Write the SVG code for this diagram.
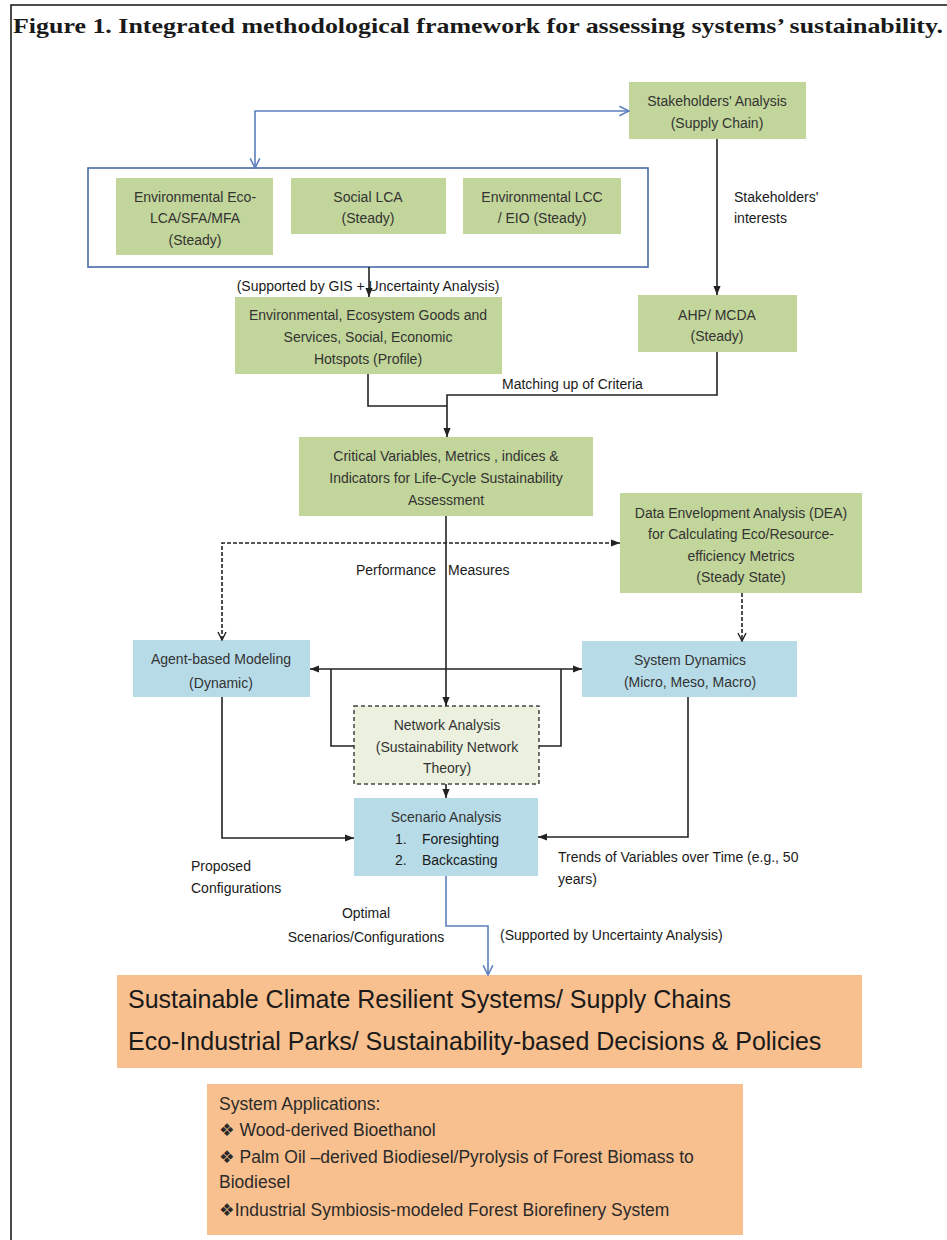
<svg xmlns="http://www.w3.org/2000/svg" width="947" height="1240" viewBox="0 0 947 1240">
  <defs>
    <style>
      .frame { fill: none; stroke: #111; stroke-width: 1.5; }
      .title { font-family: "Liberation Serif", "DejaVu Serif", serif; font-size: 22px; font-weight: bold; fill: #1a1a1a; }
      .green { fill: #c2d59a; }
      .blue { fill: #b7dce8; }
      .pale { fill: #ebf1de; stroke: #444; stroke-width: 1.5; stroke-dasharray: 4 3; }
      .orange { fill: #f9c08f; }
      .group { fill: none; stroke: #4a6aa8; stroke-width: 1.6; }
      .t { font-family: "Liberation Sans", Arial, sans-serif; font-size: 14px; fill: #333; text-anchor: middle; }
      .lbl { font-family: "Liberation Sans", Arial, sans-serif; font-size: 14px; fill: #1a1a1a; }
      .mid { text-anchor: middle; }
      .big { font-family: "Liberation Sans", Arial, sans-serif; font-size: 25px; fill: #1a1a1a; }
      .app { font-family: "Liberation Sans", "DejaVu Sans", Arial, sans-serif; font-size: 17.5px; fill: #2a2a2a; }
      .ln { fill: none; stroke: #222; stroke-width: 1.6; }
      .dash { fill: none; stroke: #222; stroke-width: 1.6; stroke-dasharray: 4 2; }
      .bl { fill: none; stroke: #5b7fbf; stroke-width: 1.6; }
    </style>
    <marker id="ah" viewBox="0 0 10 10" refX="10" refY="5" markerWidth="9" markerHeight="9" markerUnits="userSpaceOnUse" orient="auto-start-reverse">
      <path d="M0,1 L10,5 L0,9 z" fill="#222"/>
    </marker>
    <marker id="ao" viewBox="0 0 10 10" refX="9" refY="5" markerWidth="10" markerHeight="10" markerUnits="userSpaceOnUse" orient="auto-start-reverse">
      <path d="M1,1 L9,5 L1,9" fill="none" stroke="#222" stroke-width="1.4"/>
    </marker>
    <marker id="abl" viewBox="0 0 10 10" refX="9" refY="5" markerWidth="12" markerHeight="12" markerUnits="userSpaceOnUse" orient="auto-start-reverse">
      <path d="M1,1 L9,5 L1,9" fill="none" stroke="#5b7fbf" stroke-width="1.3"/>
    </marker>
  </defs>

  <rect width="947" height="1240" fill="#fff"/>
  <path class="frame" d="M947 5 H11 V1240"/>
  <text class="title" x="13" y="33" textLength="930" lengthAdjust="spacingAndGlyphs">Figure 1. Integrated methodological framework for assessing systems’ sustainability.</text>

  <!-- grouping frame around the three steady-state assessments -->
  <rect id="assessment-group" class="group" x="88" y="168" width="560" height="99"/>

  <g id="stakeholders">
    <rect class="green" x="629" y="82" width="177" height="57"/>
    <text class="t" x="717" y="106">Stakeholders' Analysis</text>
    <text class="t" x="717" y="128">(Supply Chain)</text>
  </g>

  <g id="eco-lca">
    <rect class="green" x="116" y="178" width="157" height="77"/>
    <text class="t" x="195" y="202">Environmental Eco-</text>
    <text class="t" x="195" y="223">LCA/SFA/MFA</text>
    <text class="t" x="195" y="245">(Steady)</text>
  </g>

  <g id="social-lca">
    <rect class="green" x="291" y="178" width="155" height="56"/>
    <text class="t" x="368" y="202">Social LCA</text>
    <text class="t" x="368" y="223">(Steady)</text>
  </g>

  <g id="env-lcc">
    <rect class="green" x="463" y="178" width="158" height="56"/>
    <text class="t" x="542" y="202">Environmental LCC</text>
    <text class="t" x="542" y="223">/ EIO (Steady)</text>
  </g>

  <g id="hotspots">
    <rect class="green" x="235" y="297" width="267" height="77"/>
    <text class="t" x="368" y="320">Environmental,  Ecosystem Goods and</text>
    <text class="t" x="368" y="342">Services, Social, Economic</text>
    <text class="t" x="368" y="364">Hotspots (Profile)</text>
  </g>

  <g id="ahp-mcda">
    <rect class="green" x="638" y="295" width="159" height="57"/>
    <text class="t" x="717" y="320">AHP/ MCDA</text>
    <text class="t" x="717" y="341">(Steady)</text>
  </g>

  <g id="critical-variables">
    <rect class="green" x="299" y="437" width="294" height="79"/>
    <text class="t" x="446" y="461">Critical Variables, Metrics , indices &amp;</text>
    <text class="t" x="446" y="483">Indicators for Life-Cycle Sustainability</text>
    <text class="t" x="446" y="505">Assessment</text>
  </g>

  <g id="dea">
    <rect class="green" x="620" y="493" width="242" height="100"/>
    <text class="t" x="741" y="518">Data Envelopment Analysis (DEA)</text>
    <text class="t" x="741" y="539">for Calculating Eco/Resource-</text>
    <text class="t" x="741" y="561">efficiency Metrics</text>
    <text class="t" x="741" y="582">(Steady State)</text>
  </g>

  <g id="agent-based">
    <rect class="blue" x="133" y="640" width="177" height="57"/>
    <text class="t" x="221" y="664">Agent-based Modeling</text>
    <text class="t" x="221" y="688">(Dynamic)</text>
  </g>

  <g id="system-dynamics">
    <rect class="blue" x="582" y="641" width="215" height="56"/>
    <text class="t" x="690" y="665">System Dynamics</text>
    <text class="t" x="690" y="687">(Micro, Meso, Macro)</text>
  </g>

  <g id="network-analysis">
    <rect class="pale" x="354" y="706" width="185" height="78"/>
    <text class="t" x="447" y="730">Network Analysis</text>
    <text class="t" x="447" y="752">(Sustainability Network</text>
    <text class="t" x="447" y="773">Theory)</text>
  </g>

  <g id="scenario-analysis">
    <rect class="blue" x="354" y="798" width="184" height="78"/>
    <text class="t" x="446" y="822">Scenario Analysis</text>
    <text class="lbl" x="395" y="844" fill="#333">1.</text>
    <text class="lbl" x="422" y="844" fill="#333">Foresighting</text>
    <text class="lbl" x="395" y="865" fill="#333">2.</text>
    <text class="lbl" x="422" y="865" fill="#333">Backcasting</text>
  </g>

  <g id="outcomes">
    <rect class="orange" x="117" y="975" width="745" height="93"/>
    <text class="big" x="128" y="1008">Sustainable Climate Resilient Systems/ Supply Chains</text>
    <text class="big" x="128" y="1050">Eco-Industrial Parks/ Sustainability-based Decisions &amp; Policies</text>
  </g>

  <g id="applications">
    <rect class="orange" x="207" y="1084" width="536" height="151"/>
    <text class="app" x="219" y="1110">System Applications:</text>
    <text class="app" x="219" y="1136">❖ Wood-derived Bioethanol</text>
    <text class="app" x="219" y="1163">❖ Palm Oil –derived Biodiesel/Pyrolysis of Forest Biomass to</text>
    <text class="app" x="219" y="1188">Biodiesel</text>
    <text class="app" x="219" y="1216">❖Industrial Symbiosis-modeled Forest Biorefinery System</text>
  </g>

  <g id="connectors">
    <path class="bl" d="M629 111 H255 V168" marker-start="url(#abl)" marker-end="url(#abl)"/>
    <path class="ln" d="M717 139 V295" marker-end="url(#ah)"/>
    <path class="ln" d="M369 267 V297" marker-end="url(#ah)"/>
    <path class="ln" d="M368 374 V406 H447"/>
    <path class="ln" d="M717 352 V395 H447 V437" marker-end="url(#ah)"/>
    <path class="ln" d="M446 516 V706" marker-end="url(#ah)"/>
    <path class="dash" d="M222 640 V543 H620" marker-start="url(#ao)" marker-end="url(#ah)"/>
    <path class="dash" d="M742 593 V641" marker-end="url(#ao)"/>
    <path class="ln" d="M310 669 H582" marker-start="url(#ah)" marker-end="url(#ah)"/>
    <path class="ln" d="M354 746 H331 V669"/>
    <path class="ln" d="M539 746 H561 V669"/>
    <path class="ln" d="M446 784 V798" marker-end="url(#ah)"/>
    <path class="ln" d="M222 697 V838 H354" marker-end="url(#ah)"/>
    <path class="ln" d="M688 697 V837 H538" marker-end="url(#ah)"/>
    <path class="bl" d="M446 876 V926 H488 V975" marker-end="url(#abl)"/>
  </g>

  <g id="labels">
    <text class="lbl" x="734" y="202">Stakeholders'</text>
    <text class="lbl" x="734" y="223">interests</text>
    <text class="lbl mid" x="368" y="291">(Supported by GIS + Uncertainty Analysis)</text>
    <text class="lbl" x="502" y="389">Matching up of Criteria</text>
    <text class="lbl" x="356" y="575">Performance</text>
    <text class="lbl" x="448" y="575">Measures</text>
    <text class="lbl" x="191" y="871">Proposed</text>
    <text class="lbl" x="191" y="893">Configurations</text>
    <text class="lbl" x="558" y="862">Trends of Variables over Time (e.g., 50</text>
    <text class="lbl" x="558" y="884">years)</text>
    <text class="lbl mid" x="366" y="918">Optimal</text>
    <text class="lbl mid" x="366" y="942">Scenarios/Configurations</text>
    <text class="lbl" x="500" y="940">(Supported by Uncertainty Analysis)</text>
  </g>
</svg>
